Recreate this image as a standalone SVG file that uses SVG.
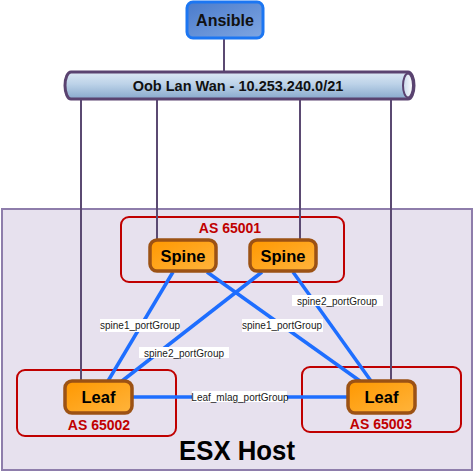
<svg xmlns="http://www.w3.org/2000/svg" width="475" height="472" viewBox="0 0 475 472">
<defs>
<linearGradient id="gAns" x1="0" y1="0" x2="1" y2="1">
<stop offset="0" stop-color="#4A7BCB"/><stop offset="1" stop-color="#7FA6E2"/>
</linearGradient>
<linearGradient id="gTube" x1="0" y1="0" x2="0" y2="1">
<stop offset="0" stop-color="#DCE8F4"/><stop offset="0.45" stop-color="#BCD2E8"/><stop offset="1" stop-color="#88A9CC"/>
</linearGradient>
<linearGradient id="gCap" x1="0" y1="0" x2="1" y2="0">
<stop offset="0" stop-color="#C8D8EA"/><stop offset="1" stop-color="#FFFFFF"/>
</linearGradient>
<linearGradient id="gOr" x1="0" y1="0" x2="1" y2="1">
<stop offset="0" stop-color="#FF9800"/><stop offset="1" stop-color="#FFB43C"/>
</linearGradient>
</defs>
<style>
text{font-family:"Liberation Sans",Arial,sans-serif;}
.esx{fill:#E7E1EE;stroke:#8E7DAB;stroke-width:2;}
.as{fill:none;stroke:#C00000;stroke-width:2;}
.aslbl{font-size:14px;font-weight:bold;fill:#C00000;text-anchor:middle;}
.sw{fill:url(#gOr);stroke:#9C5214;stroke-width:3.5;}
.swt{font-size:16.5px;font-weight:bold;fill:#000;text-anchor:middle;}
.mgmt{stroke:#5B4A72;stroke-width:2;fill:none;}
.link{stroke:#1E6EFF;stroke-width:3.5;fill:none;}
.lblbg{fill:#FFFFFF;}
.lbl{font-size:10px;fill:#1A1A1A;text-anchor:middle;}
</style>

<g id="esx-host">
<rect class="esx" x="2" y="209" width="470" height="261"/>
<text x="237" y="460" font-size="28" font-weight="bold" fill="#000" text-anchor="middle" textLength="116" lengthAdjust="spacingAndGlyphs">ESX Host</text>
</g>

<g id="as-groups">
<g id="as65001"><rect class="as" x="121" y="217" width="223" height="65" rx="8"/><text class="aslbl" x="230" y="233">AS 65001</text></g>
<g id="as65002"><rect class="as" x="17" y="370" width="159" height="66" rx="8"/><text class="aslbl" x="99" y="430">AS 65002</text></g>
<g id="as65003"><rect class="as" x="302" y="367" width="159" height="65" rx="8"/><text class="aslbl" x="381" y="429">AS 65003</text></g>
</g>

<g id="connectors">
<line class="mgmt" x1="224" y1="39" x2="224" y2="72"/>
<line class="mgmt" x1="81" y1="99" x2="81" y2="381"/>
<line class="mgmt" x1="157" y1="99" x2="157" y2="240"/>
<line class="mgmt" x1="300" y1="99" x2="300" y2="240"/>
<line class="mgmt" x1="391" y1="99" x2="391" y2="381"/>
<line class="link" x1="173" y1="272" x2="108" y2="381"/>
<line class="link" x1="262" y1="272" x2="122" y2="381"/>
<line class="link" x1="207" y1="272" x2="360" y2="381"/>
<line class="link" x1="293" y1="272" x2="371" y2="381"/>
<line class="link" x1="132" y1="397" x2="348" y2="397"/>
</g>

<g id="connector-labels">
<rect class="lblbg" x="100" y="319" width="80" height="13"/><text class="lbl" x="140" y="329">spine1_portGroup</text>
<rect class="lblbg" x="139" y="347" width="90" height="11"/><text class="lbl" x="184" y="357">spine2_portGroup</text>
<rect class="lblbg" x="242" y="319" width="81" height="13"/><text class="lbl" x="282" y="329">spine1_portGroup</text>
<rect class="lblbg" x="292" y="295" width="91" height="11"/><text class="lbl" x="337" y="304.5">spine2_portGroup</text>
<rect class="lblbg" x="192" y="391" width="95" height="11"/><text class="lbl" x="240" y="400.5">Leaf_mlag_portGroup</text>
</g>

<g id="ansible">
<rect x="187" y="2" width="76" height="36" rx="6" fill="url(#gAns)" stroke="#1C76F2" stroke-width="3"/>
<text x="225" y="26" font-size="16" font-weight="bold" fill="#111" text-anchor="middle">Ansible</text>
</g>

<g id="oob-lan-wan">
<path d="M71,72 L408,72 A6,13.5 0 0 1 408,99 L71,99 A6,13.5 0 0 1 71,72 Z" fill="url(#gTube)" stroke="#5A4370" stroke-width="3"/>
<ellipse cx="408" cy="85.5" rx="5" ry="12" fill="url(#gCap)" stroke="#5A4370" stroke-width="2"/>
<text x="238" y="91" font-size="14.5" font-weight="bold" fill="#111" text-anchor="middle">Oob Lan Wan - 10.253.240.0/21</text>
</g>

<g id="spine1"><rect class="sw" x="150" y="240" width="66" height="31" rx="7"/><text class="swt" x="183" y="261.5">Spine</text></g>
<g id="spine2"><rect class="sw" x="250" y="240" width="66" height="31" rx="7"/><text class="swt" x="283" y="261.5">Spine</text></g>
<g id="leaf1"><rect class="sw" x="65" y="381" width="67" height="32" rx="7"/><text class="swt" x="98.5" y="403">Leaf</text></g>
<g id="leaf2"><rect class="sw" x="348" y="381" width="67" height="32" rx="7"/><text class="swt" x="381.5" y="403">Leaf</text></g>
</svg>
